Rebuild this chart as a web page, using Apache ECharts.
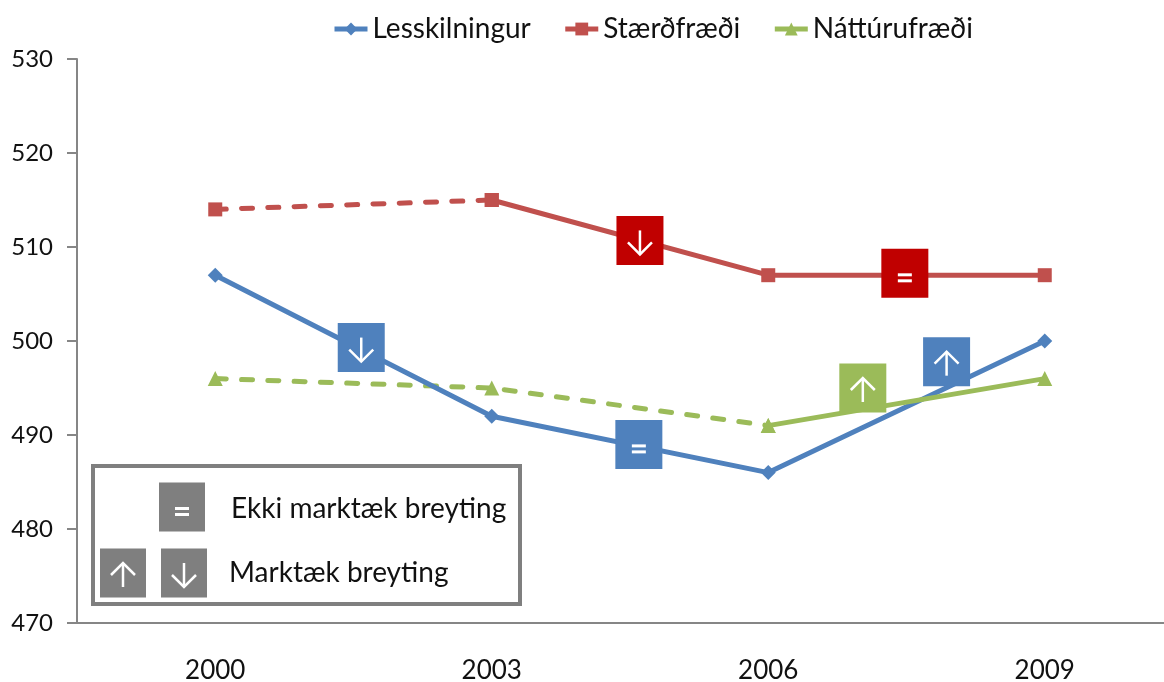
<!DOCTYPE html>
<html>
<head>
<meta charset="utf-8">
<style>
    html, body { margin: 0; padding: 0; background: #fff; overflow: hidden; }
    #chart { width: 1164px; height: 682px; }
</style>
<script src="https://cdn.jsdelivr.net/npm/echarts@6/dist/echarts.min.js"></script>
</head>
<body>
<div id="chart"></div>
<script>
(function () {
    'use strict';

    var years = ['2000', '2003', '2006', '2009'];

    var readingValues = [507, 492, 486, 500];
    var mathSolidValues = [null, 515, 507, 507];
    var mathDashedValues = [514, 515, null, null];
    var scienceSolidValues = [null, null, 491, 496];
    var scienceDashedValues = [496, 495, 491, null];

    // significance badges: position between years (0 = 2000), value, sign
    var badgePositions = [0.528, 1.536, 1.532, 2.494, 2.342, 2.645];
    var badgeValues = [499.3, 510.7, 489, 507.2, 495, 497.8];
    var badgeSigns = ['down', 'down', 'equal', 'equal', 'up', 'up'];
    var badgeSubjects = ['reading', 'math', 'reading', 'math', 'science', 'reading'];

    var COLORS = {
        reading: '#4F81BD',
        math: '#C0504D',
        science: '#9BBB59',
        mathBadge: '#C00000',
        grey: '#7F7F7F',
        axis: '#868686'
    };
    var FONT = 'Lato, "Open Sans", sans-serif';

    function signShapes(cx, cy, sign) {
        var stroke = { stroke: '#fff', lineWidth: 2.5, fill: null };
        if (sign === 'equal') {
            return [
                { type: 'rect', shape: { x: cx - 7, y: cy, width: 14, height: 3 }, style: { fill: '#fff' } },
                { type: 'rect', shape: { x: cx - 7, y: cy + 6, width: 14, height: 3 }, style: { fill: '#fff' } }
            ];
        }
        // the arrow sits a little below the middle of the square
        var tip = sign === 'up' ? cy - 10 : cy + 14;
        var tail = sign === 'up' ? cy + 14 : cy - 10;
        var headY = sign === 'up' ? tip + 12 : tip - 12;
        return [
            { type: 'line', shape: { x1: cx, y1: tail, x2: cx, y2: tip }, style: stroke },
            {
                type: 'polyline',
                shape: { points: [[cx - 12, headY], [cx, tip], [cx + 12, headY]] },
                style: stroke
            }
        ];
    }

    function badge(cx, cy, width, height, fill, sign) {
        return {
            type: 'group',
            children: [{
                type: 'rect',
                shape: { x: cx - width / 2, y: cy - height / 2, width: width, height: height },
                style: { fill: fill }
            }].concat(signShapes(cx, cy, sign))
        };
    }

    // group children do not pick up the z of their parent
    function withZ(el, z) {
        el.z = z;
        (el.children || []).forEach(function (child) {
            withZ(child, z);
        });
        return el;
    }

    function lineSeries(name, values, color, symbol, size, dashed) {
        return {
            name: name,
            type: 'line',
            data: values,
            symbol: symbol,
            symbolSize: size,
            connectNulls: false,
            lineStyle: dashed
                ? { color: color, width: 5, type: [11, 15.3], cap: 'round' }
                : { color: color, width: 5, type: 'solid' },
            itemStyle: { color: color },
            z: dashed ? 2 : 3
        };
    }

    var chart = echarts.init(document.getElementById('chart'));

    chart.setOption({
        animation: false,
        backgroundColor: '#fff',
        grid: { left: 77, top: 59, width: 1106, height: 564, outerBoundsMode: 'none' },
        legend: {
            data: ['Lesskilningur', 'Stærðfræði', 'Náttúrufræði'],
            left: 332,
            top: 15,
            padding: 0,
            itemWidth: 33,
            itemHeight: 16,
            itemGap: 32,
            lineStyle: { width: 5 },
            textStyle: { fontFamily: FONT, fontSize: 28, color: '#111' }
        },
        xAxis: [{
            type: 'category',
            data: years,
            boundaryGap: true,
            axisLine: { lineStyle: { color: COLORS.axis, width: 2 } },
            axisTick: { show: false },
            axisLabel: { fontFamily: FONT, fontSize: 26, color: '#111', margin: 35 }
        }, {
            type: 'value',
            min: -0.5,
            max: 3.5,
            show: false
        }],
        yAxis: {
            type: 'value',
            min: 470,
            max: 530,
            interval: 10,
            splitLine: { show: false },
            axisLine: { show: true, onZero: false, lineStyle: { color: COLORS.axis, width: 2 } },
            axisTick: { show: true, length: 10, lineStyle: { color: COLORS.axis, width: 2 } },
            axisLabel: { fontFamily: FONT, fontSize: 24, color: '#111', margin: 24 }
        },
        series: [
            lineSeries('Lesskilningur', readingValues, COLORS.reading, 'diamond', 15, false),
            lineSeries('Stærðfræði', mathSolidValues, COLORS.math, 'rect', 14, false),
            lineSeries('Stærðfræði (dashed)', mathDashedValues, COLORS.math, 'rect', 14, true),
            lineSeries('Náttúrufræði', scienceSolidValues, COLORS.science, 'triangle', 15, false),
            lineSeries('Náttúrufræði (dashed)', scienceDashedValues, COLORS.science, 'triangle', 15, true),
            {
                type: 'custom',
                xAxisIndex: 1,
                data: badgePositions.map(function (pos, i) {
                    return [pos, badgeValues[i]];
                }),
                clip: false,
                z: 5,
                renderItem: function (params, api) {
                    var i = params.dataIndex;
                    var point = api.coord([api.value(0), api.value(1)]);
                    var subject = badgeSubjects[i];
                    var fill = subject === 'math' ? COLORS.mathBadge : COLORS[subject];
                    return badge(point[0], point[1], 47, 49, fill, badgeSigns[i]);
                }
            }
        ],
        graphic: [
            withZ({
                type: 'rect',
                shape: { x: 93, y: 466, width: 427, height: 138 },
                style: { fill: '#fff', stroke: COLORS.grey, lineWidth: 4 }
            }, 10),
            withZ(badge(182, 507, 46, 49, COLORS.grey, 'equal'), 11),
            withZ(badge(123, 573, 46, 49, COLORS.grey, 'up'), 11),
            withZ(badge(184, 573, 46, 49, COLORS.grey, 'down'), 11),
            withZ({
                type: 'text',
                style: {
                    x: 231, y: 509, text: 'Ekki marktæk breyting',
                    font: '28px ' + FONT, fill: '#111', verticalAlign: 'middle'
                }
            }, 11),
            withZ({
                type: 'text',
                style: {
                    x: 229, y: 573, text: 'Marktæk breyting',
                    font: '28px ' + FONT, fill: '#111', verticalAlign: 'middle'
                }
            }, 11)
        ]
    });
})();
</script>
</body>
</html>
